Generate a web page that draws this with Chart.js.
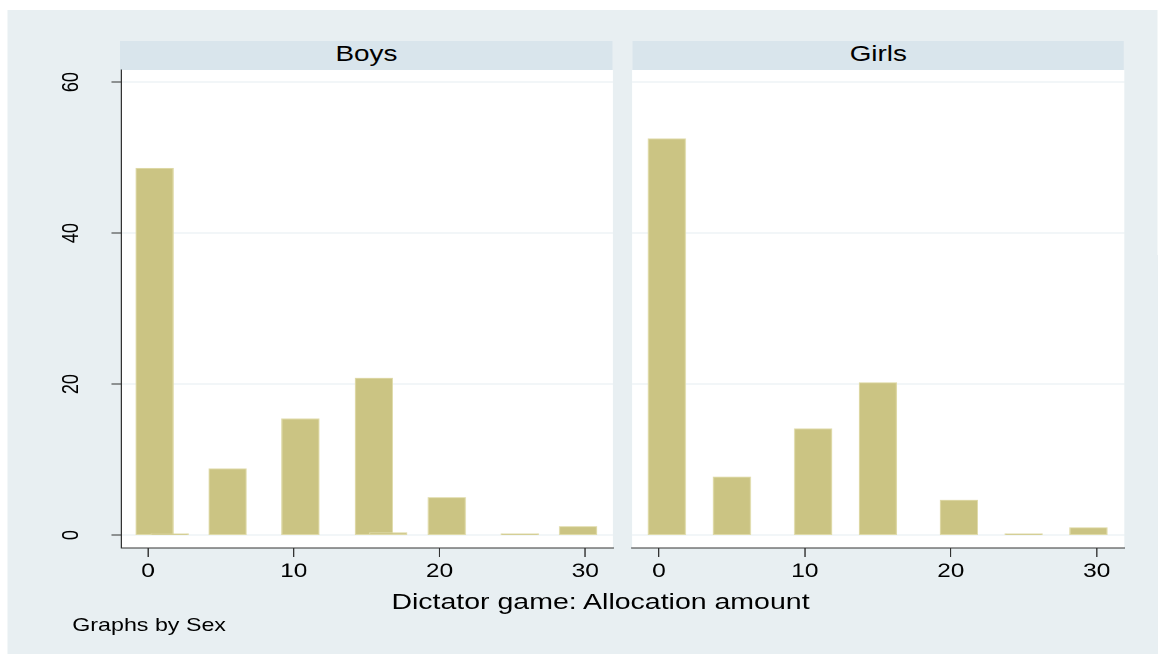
<!DOCTYPE html>
<html>
<head>
<meta charset="utf-8">
<script src="https://cdn.jsdelivr.net/npm/chart.js@4.4.1/dist/chart.umd.min.js"></script>
<style>
html, body { margin: 0; padding: 0; background: #ffffff; width: 1158px; height: 654px; overflow: hidden; }
/* the whole figure is laid out narrower and stretched, like the original export */
#fig { position: absolute; left: 0; top: 0; width: 926.4px; height: 654px; transform: scaleX(1.25); transform-origin: 0 0; font-family: "Liberation Sans", Arial, sans-serif; color: #000; }
#bg { position: absolute; left: 5.6px; top: 10px; right: 0; bottom: 0; background: #e8eff2; }
.strip { position: absolute; top: 41px; height: 29px; background: #d9e5ec; text-align: center; font-size: 22.3px; line-height: 26px; }
canvas { position: absolute; top: 30px; }
#xtitle { position: absolute; left: 0; width: 960.8px; top: 585.9px; text-align: center; font-size: 22.8px; line-height: 30px; white-space: nowrap; }
#note { position: absolute; left: 57.8px; top: 613.3px; font-size: 18.6px; line-height: 24px; white-space: nowrap; }
</style>
</head>
<body>
<div id="fig">
  <div id="bg"></div>
  <div class="strip" style="left:96px;width:394.4px">Boys</div>
  <div class="strip" style="left:505.8px;width:393.7px">Girls</div>
  <canvas id="boysChart" style="left:16px"></canvas>
  <canvas id="girlsChart" style="left:496px"></canvas>
  <div id="xtitle">Dictator game: Allocation amount</div>
  <div id="note">Graphs by Sex</div>
</div>
<script>
// tick labels
const xTicks = [0, 10, 20, 30];
const yTicks = [0, 20, 40, 60];

// allocation amount (bar centre) and percent per bar
const boysAmount = [0.45, 1.48, 5.46, 10.46, 15.5, 16.47, 20.5, 25.5, 29.5];
const boysPercent = [48.6, 0.2, 8.8, 15.4, 20.8, 0.35, 5.0, 0.2, 1.15];
const girlsAmount = [0.54, 5.0, 10.56, 15.0, 20.56, 25.0, 29.44];
const girlsPercent = [52.5, 7.7, 14.1, 20.2, 4.65, 0.2, 1.0];

const FONT = "'Liberation Sans', Arial, sans-serif";

const plotBackground = {
    id: 'plotBackground',
    beforeDraw(chart) {
        const { ctx, chartArea: a } = chart;
        ctx.save();
        ctx.fillStyle = '#ffffff';
        ctx.fillRect(a.left, a.top, a.right - a.left, a.bottom - a.top);
        ctx.restore();
    }
};

function makePanel(canvasId, amounts, percents, showYAxis, yAxisWidth, rightPad, width) {
    const canvas = document.getElementById(canvasId);
    canvas.width = width;
    canvas.height = 570;
    canvas.style.width = width + 'px';
    canvas.style.height = '570px';

    return new Chart(canvas.getContext('2d'), {
        type: 'bar',
        data: {
            datasets: [{
                data: amounts.map((a, i) => ({ x: a, y: percents[i] })),
                backgroundColor: '#cbc483',
                borderColor: '#dfdaa8',
                borderWidth: 1,
                borderSkipped: false,
                barThickness: 30
            }]
        },
        options: {
            responsive: false,
            animation: false,
            devicePixelRatio: 2,
            layout: { autoPadding: false, padding: { top: 40, right: rightPad, bottom: 0, left: 0 } },
            plugins: { legend: { display: false }, tooltip: { enabled: false } },
            scales: {
                x: {
                    type: 'linear',
                    offset: false,
                    min: -1.85,
                    max: 31.9,
                    afterBuildTicks: s => { s.ticks = xTicks.map(v => ({ value: v })); },
                    afterFit: s => { s.height = 52; },
                    grid: { offset: false, drawOnChartArea: false, drawTicks: true, tickLength: 9, tickColor: '#333333', tickWidth: 1 },
                    border: { display: true, color: '#333333', width: 1 },
                    ticks: { color: '#000', font: { family: FONT, size: 19.5 }, padding: 3, maxRotation: 0, minRotation: 0 }
                },
                y: {
                    type: 'linear',
                    min: -1.7,
                    max: 61.6,
                    afterBuildTicks: s => { s.ticks = yTicks.map(v => ({ value: v })); },
                    afterFit: s => { s.width = yAxisWidth; },
                    grid: { color: '#e6eef1', lineWidth: 1, drawTicks: showYAxis, tickLength: 7.6, tickColor: '#333333' },
                    border: { display: showYAxis, color: '#333333', width: 1 },
                    ticks: {
                        display: showYAxis,
                        color: '#000',
                        font: { family: FONT, size: 18 },
                        minRotation: 90,
                        maxRotation: 90,
                        crossAlign: 'center',
                        padding: 21.6
                    }
                }
            }
        },
        plugins: [plotBackground]
    });
}

makePanel('boysChart', boysAmount, boysPercent, true, 80.8, 5.6, 480);
makePanel('girlsChart', girlsAmount, girlsPercent, false, 9.6, 12.5, 416);
</script>
</body>
</html>
